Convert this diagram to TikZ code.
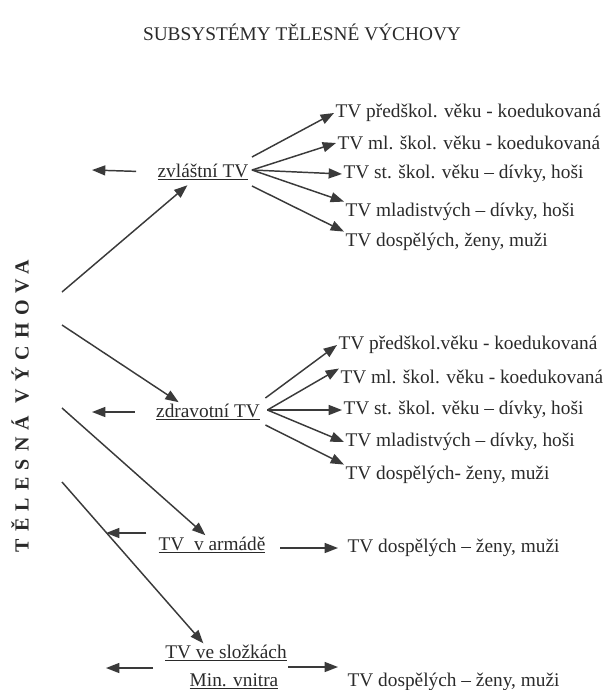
\documentclass[tikz,border=0pt]{standalone}
\usepackage{fontspec}
\setmainfont{Liberation Serif}
\newfontfamily\spacedfont[LetterSpace=36]{Liberation Serif}
\usetikzlibrary{arrows.meta, positioning}
\definecolor{ink}{HTML}{2A2A2A}
\definecolor{lead}{HTML}{3A3A3A}

\begin{document}
\begin{tikzpicture}[
      x=0.75pt, y=-0.75pt,
      font=\fontsize{14.5}{17}\selectfont, text=ink,
      >={Triangle[length=10pt,width=7.5pt]},
      branch/.style={inner sep=1pt},
      item/.style={anchor=west, inner sep=1pt},
      axis/.style={rotate=90, inner sep=1pt,
                   font=\spacedfont\bfseries\fontsize{15}{17}\selectfont},
      flow/.style={->, line width=1.1pt, draw=lead}
  ]
    \useasboundingbox (0,0) rectangle (606,690);
    \node (title) at (302,32) {SUBSYSTÉMY TĚLESNÉ VÝCHOVY};
    \node[axis] (tv) at (20,406) {TĚLESNÁ VÝCHOVA};
    \coordinate (o1) at (62,292);
    \coordinate (o2) at (62,325);
    \coordinate (o3) at (62,408);
    \coordinate (o4) at (62,482);
    % zvlastni TV
    \node[branch] (zvl) at (203,172) {\underline{zvláštní TV}};
    \coordinate (zvlout) at (92,170);
    \node[item] (z1) at (334,113) {TV předškol. věku - koedukovaná};
    \node[item] (z2) at (336,143) {TV ml. škol. věku - koedukovaná};
    \node[item] (z3) at (342,174) {TV st. škol. věku – dívky, hoši};
    \node[item] (z4) at (344,212) {TV mladistvých – dívky, hoši};
    \node[item] (z5) at (344,242) {TV dospělých, ženy, muži};
    % zdravotni TV
    \node[branch] (zdr) at (208,412) {\underline{zdravotní TV}};
    \coordinate (zdrout) at (92,412);
    \node[item] (h1) at (337,345) {TV předškol.věku - koedukovaná};
    \node[item] (h2) at (339,377) {TV ml. škol. věku - koedukovaná};
    \node[item] (h3) at (342,410) {TV st. škol. věku – dívky, hoši};
    \node[item] (h4) at (344,442) {TV mladistvých – dívky, hoši};
    \node[item] (h5) at (344,475) {TV dospělých- ženy, muži};
    % armada, MV
    \node[branch] (arm) at (212,545) {\underline{TV~~v armádě}};
    \coordinate (armout) at (106,533);
    \node[item] (ad) at (346,548) {TV dospělých – ženy, muži};
    \node[branch] (mv) at (226,667)
      {\shortstack{\underline{TV ve složkách}\\[6pt]\hspace{12pt}\underline{Min. vnitra}}};
    \coordinate (mvout) at (106,668);
    \node[item] (mvd) at (346,682) {TV dospělých – ženy, muži};
    \draw[flow, shorten >=4pt] (o1) -- (zvl);
    \draw[flow] (o2) -- ([xshift=-22pt]zdr.north);
    \draw[flow] (o3) -- ([xshift=-5pt]arm.north);
    \draw[flow] (o4) -- ([xshift=-17pt]mv.north);
    \draw[flow, shorten <=15pt] (zvl.west) -- (zvlout);
    \draw[flow, shorten <=15pt] (zdr.west) -- (zdrout);
    \draw[flow, shorten <=8pt] (armout -| arm.west) -- (armout);
    \draw[flow, shorten <=8pt] (mvout -| mv.west) -- (mvout);
    \draw[flow] ([shift={(2,-15)}]zvl.east) -- (z1.west);
    \draw[flow] ([shift={(2,-2)}]zvl.east) -- (z2.west);
    \draw[flow] ([shift={(2,-2)}]zvl.east) -- (z3.west);
    \draw[flow] ([shift={(2,-2)}]zvl.east) -- (z4.north west);
    \draw[flow] ([shift={(2,14)}]zvl.east) -- (z5.north west);
    \draw[flow] ([shift={(4,-14)}]zdr.east) -- (h1.west);
    \draw[flow] ([shift={(6,-2)}]zdr.east) -- (h2.north west);
    \draw[flow] ([shift={(6,-2)}]zdr.east) -- (h3.west);
    \draw[flow] ([shift={(6,-2)}]zdr.east) -- (h4.west);
    \draw[flow] ([shift={(4,13)}]zdr.east) -- (h5.north west);
    \draw[flow, shorten <=10pt, shorten >=6pt] (ad.west -| arm.east) -- (ad.west);
    \draw[flow, shorten >=6pt] (mv.east) -- (mv.east -| mvd.west);
  \end{tikzpicture}
\end{document}
